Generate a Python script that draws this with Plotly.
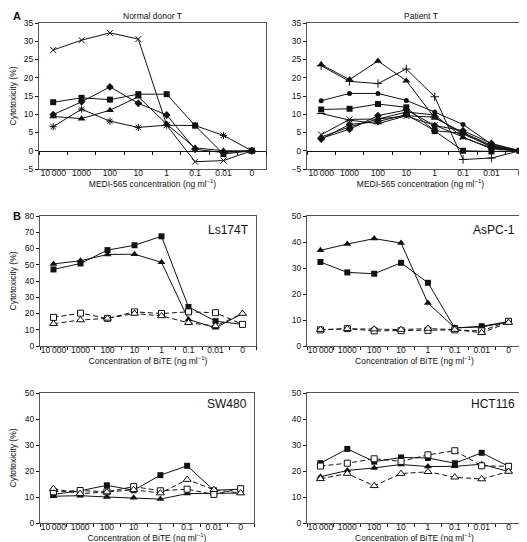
import plotly.graph_objects as go

# ---------------- data ----------------
CONC = ["10\u2009000", "1000", "100", "10", "1", "0.1", "0.01", "0"]

# Panel A - Normal donor T (MEDI-565)
ND_SQUARE = [13.3, 14.5, 14.0, 15.5, 15.5, 6.9, -0.9, 0.0]
ND_TRIANGLE = [9.4, 8.8, 11.1, 14.8, 7.3, 0.8, 0.0, 0.0]
ND_DIAMOND = [9.9, 13.4, 17.5, 13.0, 9.8, 0.4, -0.5, 0.0]
ND_CROSS = [27.6, 30.3, 32.3, 30.6, 7.0, -3.0, -2.7, 0.0]
ND_STAR = [6.6, 11.4, 8.1, 6.4, 7.0, 6.9, 4.2, 0.0]

# Panel A - Patient T (MEDI-565)
PT_TRIANGLE = [23.6, 19.5, 24.6, 19.2, 9.0, 5.0, 1.5, 0.0]
PT_CROSS = [23.3, 19.0, 18.4, 22.4, 14.8, -2.4, -2.0, 0.0]
PT_CIRCLE = [13.7, 15.7, 15.7, 13.8, 10.6, 7.2, 1.8, 0.0]
PT_SQUARE = [11.3, 11.5, 12.8, 11.9, 5.4, 0.0, -0.2, 0.0]
PT_DASH = [10.2, 8.4, 7.4, 9.6, 9.2, 4.6, 1.2, 0.0]
PT_DIAMOND = [3.4, 5.9, 9.6, 11.2, 6.9, 5.5, 2.0, 0.0]
PT_TRIANGLE2 = [3.8, 6.5, 8.7, 10.6, 9.8, 3.6, 0.8, 0.0]
PT_DIAMOND2 = [3.2, 7.2, 8.0, 9.9, 5.5, 4.8, 1.0, 0.0]
PT_STAR = [4.4, 8.6, 8.7, 9.5, 7.0, 3.8, 0.5, 0.0]

# Panel B - BiTE on cell lines
LS_SQ_FILLED = [47.1, 50.8, 59.0, 62.0, 67.5, 24.0, 15.3, 13.3]
LS_TRI_FILLED = [50.5, 52.5, 56.3, 56.5, 51.5, 16.3, 11.2, 20.0]
LS_SQ_OPEN = [17.6, 20.2, 17.0, 21.0, 20.0, 21.0, 20.5, 13.3]
LS_TRI_OPEN = [13.7, 16.0, 17.0, 20.0, 18.5, 14.3, 12.3, 20.0]

AS_SQ_FILLED = [32.3, 28.3, 27.8, 32.0, 24.3, 6.9, 7.6, 9.4]
AS_TRI_FILLED = [36.8, 39.2, 41.3, 39.6, 16.5, 7.0, 7.3, 9.2]
AS_SQ_OPEN = [6.2, 6.7, 5.8, 5.9, 6.0, 6.2, 5.8, 9.5]
AS_TRI_OPEN = [6.3, 6.6, 6.5, 6.3, 6.7, 6.3, 5.1, 9.0]

SW_SQ_FILLED = [11.0, 12.4, 14.5, 12.6, 18.4, 22.0, 12.6, 13.0]
SW_TRI_FILLED = [10.3, 10.5, 10.0, 9.7, 9.2, 11.3, 11.3, 11.5]
SW_SQ_OPEN = [12.0, 12.5, 12.0, 14.0, 12.4, 13.0, 11.0, 13.2]
SW_TRI_OPEN = [13.2, 11.3, 11.9, 12.8, 11.5, 16.7, 12.8, 11.5]

HC_SQ_FILLED = [23.0, 28.5, 23.6, 25.2, 25.0, 23.0, 27.0, 21.8]
HC_TRI_FILLED = [17.8, 20.2, 21.2, 22.5, 21.7, 21.8, 22.6, 19.8]
HC_SQ_OPEN = [21.9, 23.0, 24.7, 23.7, 26.2, 27.8, 22.0, 21.8]
HC_TRI_OPEN = [17.0, 19.0, 14.3, 19.0, 19.7, 17.6, 16.9, 19.8]

# ---------------- styling ----------------
FONT = "Liberation Sans, Arial, sans-serif"
INK = "#111111"
BOX = "#555555"
W, H = 527, 542

def px_x(a, b):
    return [a / W, b / W]

def px_y(top, bottom):
    return [1 - bottom / H, 1 - top / H]

DOM = {
    1: (px_x(31, 258), px_y(15, 161)),
    2: (px_x(299, 526), px_y(15, 161)),
    3: (px_x(32, 248), px_y(208, 338)),
    4: (px_x(299, 514), px_y(208, 338)),
    5: (px_x(32, 246), px_y(385, 515)),
    6: (px_x(299, 514), px_y(385, 515)),
}

MARK = {
    "sq": dict(symbol="square", size=6, color=INK, line=dict(width=0)),
    "tri": dict(symbol="triangle-up", size=7, color=INK, line=dict(width=0)),
    "sq_o": dict(symbol="square", size=6, color="white", line=dict(width=1, color=INK)),
    "tri_o": dict(symbol="triangle-up", size=7, color="white", line=dict(width=1, color=INK)),
    "dia": dict(symbol="diamond", size=6, color=INK, line=dict(width=0)),
    "circ": dict(symbol="circle", size=5, color=INK, line=dict(width=0)),
    "x": dict(symbol="x-thin-open", size=6, color=INK, line=dict(width=1, color=INK)),
    "star": dict(symbol="asterisk-open", size=6, color=INK, line=dict(width=1, color=INK)),
    "dash": dict(symbol="line-ew-open", size=6, color=INK, line=dict(width=1, color=INK)),
    "plus": dict(symbol="cross-thin-open", size=6, color=INK, line=dict(width=1, color=INK)),
}

fig = go.Figure()

def add(values, mark, k, dashed=False):
    ax = "" if k == 1 else str(k)
    fig.add_trace(go.Scatter(
        x=CONC, y=values, mode="lines+markers",
        xaxis="x" + ax, yaxis="y" + ax,
        line=dict(color=INK, width=1, dash="5px,3px" if dashed else "solid"),
        marker=MARK[mark], showlegend=False, cliponaxis=False,
    ))

# Panel A left
add(ND_CROSS, "x", 1)
add(ND_STAR, "star", 1)
add(ND_TRIANGLE, "tri", 1)
add(ND_DIAMOND, "dia", 1)
add(ND_SQUARE, "sq", 1)
# Panel A right
add(PT_TRIANGLE, "tri", 2)
add(PT_CROSS, "plus", 2)
add(PT_CIRCLE, "circ", 2)
add(PT_SQUARE, "sq", 2)
add(PT_DASH, "dash", 2)
add(PT_DIAMOND, "dia", 2)
add(PT_TRIANGLE2, "tri", 2)
add(PT_DIAMOND2, "dia", 2)
add(PT_STAR, "x", 2)
# Panel B
for k, (sqf, trf, sqo, tro) in {
    3: (LS_SQ_FILLED, LS_TRI_FILLED, LS_SQ_OPEN, LS_TRI_OPEN),
    4: (AS_SQ_FILLED, AS_TRI_FILLED, AS_SQ_OPEN, AS_TRI_OPEN),
    5: (SW_SQ_FILLED, SW_TRI_FILLED, SW_SQ_OPEN, SW_TRI_OPEN),
    6: (HC_SQ_FILLED, HC_TRI_FILLED, HC_SQ_OPEN, HC_TRI_OPEN),
}.items():
    add(sqf, "sq", k)
    add(trf, "tri", k)
    add(sqo, "sq_o", k, dashed=True)
    add(tro, "tri_o", k, dashed=True)

# dummy traces that carry the zero-line category axes of panel A
for xa, ya in (("x7", "y"), ("x8", "y2")):
    fig.add_trace(go.Scatter(x=CONC, y=[None] * len(CONC), xaxis=xa, yaxis=ya,
                             mode="lines", showlegend=False, hoverinfo="skip"))

TICKF = dict(size=8.5, color=INK, family=FONT)
TITLEF = dict(size=8.5, color=INK, family=FONT)

def xcfg(k, title, ticks):
    ax = "y" if k == 1 else "y" + str(k)
    return dict(
        domain=DOM[k][0], anchor=ax, type="category",
        categoryorder="array", categoryarray=CONC, range=[-0.5, 7.5],
        tickson="boundaries", ticks="outside", ticklen=3, tickangle=0,
        ticklabelstandoff=-4,
        tickcolor=INK if ticks else "rgba(0,0,0,0)",
        showline=True, linecolor=BOX, linewidth=1, mirror=True,
        showgrid=False, zeroline=False, tickfont=TICKF,
        title=dict(text=title, font=TITLEF, standoff=1 if ticks else 2),
        automargin=False, fixedrange=True,
    )

def ycfg(k, rng, dtick, title):
    ax = "x" if k == 1 else "x" + str(k)
    return dict(
        domain=DOM[k][1], anchor=ax, range=rng, dtick=dtick,
        ticks="outside", ticklen=3, tickcolor=INK,
        showline=True, linecolor=BOX, linewidth=1, mirror=True,
        showgrid=False, zeroline=False, tickfont=TICKF,
        title=dict(text=title, font=TITLEF, standoff=6),
        automargin=False, fixedrange=True,
    )

MEDI = "MEDI-565 concentration (ng ml<sup>\u22121</sup>)"
BITE = "Concentration of BiTE (ng ml<sup>\u22121</sup>)"
CYTO = "Cytotoxicity (%)"
A_RANGE = [-5, 35]

def zero_pos(k):
    lo, hi = DOM[k][1]
    return lo + (0 - A_RANGE[0]) / (A_RANGE[1] - A_RANGE[0]) * (hi - lo)

def zcfg(over, k):
    return dict(
        overlaying=over, anchor="free", position=zero_pos(k), type="category",
        categoryorder="array", categoryarray=CONC, range=[-0.5, 7.5],
        tickson="boundaries", ticks="outside", ticklen=3, tickcolor=INK,
        showline=True, linecolor=INK, linewidth=1, showticklabels=False,
        showgrid=False, zeroline=False, fixedrange=True,
    )

fig.update_layout(
    width=W, height=H, margin=dict(l=0, r=0, t=0, b=0),
    paper_bgcolor="white", plot_bgcolor="white",
    font=dict(family=FONT, size=8.5, color=INK),
    xaxis=xcfg(1, MEDI, False), yaxis=ycfg(1, A_RANGE, 5, CYTO),
    xaxis2=xcfg(2, MEDI, False), yaxis2=ycfg(2, A_RANGE, 5, ""),
    xaxis3=xcfg(3, BITE, True), yaxis3=ycfg(3, [0, 80], 10, CYTO),
    xaxis4=xcfg(4, BITE, True), yaxis4=ycfg(4, [0, 50], 10, ""),
    xaxis5=xcfg(5, BITE, True), yaxis5=ycfg(5, [0, 50], 10, CYTO),
    xaxis6=xcfg(6, BITE, True), yaxis6=ycfg(6, [0, 50], 10, ""),
    xaxis7=zcfg("x", 1), xaxis8=zcfg("x2", 2),
)

ann = [
    dict(text="<b>A</b>", x=3 / W, y=1 - 8 / H, xanchor="left", yanchor="middle", size=11),
    dict(text="<b>B</b>", x=3 / W, y=1 - 208 / H, xanchor="left", yanchor="middle", size=11),
    dict(text="Normal donor T", x=144.5 / W, y=1 - 8 / H, xanchor="center", yanchor="middle", size=8.5),
    dict(text="Patient T", x=412.5 / W, y=1 - 8 / H, xanchor="center", yanchor="middle", size=8.5),
]
for a in ann:
    fig.add_annotation(text=a["text"], x=a["x"], y=a["y"], xref="paper", yref="paper",
                       xanchor=a["xanchor"], yanchor=a["yanchor"], showarrow=False,
                       font=dict(size=a["size"], color=INK, family=FONT))

for k, name, yy in ((3, "Ls174T", 0.892), (4, "AsPC-1", 0.892), (5, "SW480", 0.915), (6, "HCT116", 0.915)):
    ax = str(k)
    fig.add_annotation(text=name, x=0.975, y=yy, xref="x%s domain" % ax, yref="y%s domain" % ax,
                       xanchor="right", yanchor="middle", showarrow=False,
                       font=dict(size=12, color=INK, family=FONT))

fig.write_html("out.html")
